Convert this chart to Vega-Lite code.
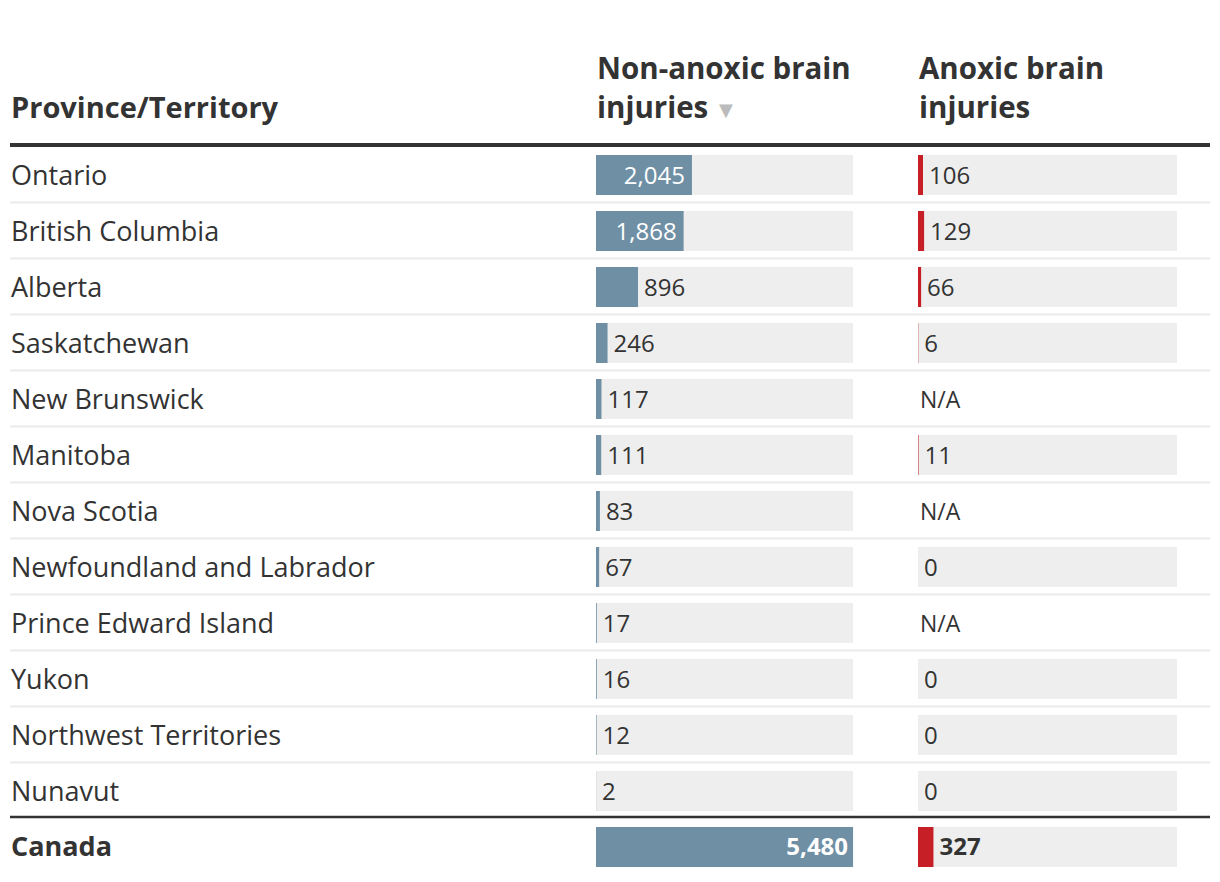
{
  "$schema": "https://vega.github.io/schema/vega-lite/v6.json",
  "padding": {"top": 55, "left": 8, "right": 8, "bottom": 8},
  "background": "white",
  "config": {"view": {"stroke": null}, "font": "Open Sans", "text": {"font": "Open Sans"}},
  "data": {"values": [
    {"province": "Ontario", "nonanoxic": 2045, "anoxic": 106},
    {"province": "British Columbia", "nonanoxic": 1868, "anoxic": 129},
    {"province": "Alberta", "nonanoxic": 896, "anoxic": 66},
    {"province": "Saskatchewan", "nonanoxic": 246, "anoxic": 6},
    {"province": "New Brunswick", "nonanoxic": 117, "anoxic": null},
    {"province": "Manitoba", "nonanoxic": 111, "anoxic": 11},
    {"province": "Nova Scotia", "nonanoxic": 83, "anoxic": null},
    {"province": "Newfoundland and Labrador", "nonanoxic": 67, "anoxic": 0},
    {"province": "Prince Edward Island", "nonanoxic": 17, "anoxic": null},
    {"province": "Yukon", "nonanoxic": 16, "anoxic": 0},
    {"province": "Northwest Territories", "nonanoxic": 12, "anoxic": 0},
    {"province": "Nunavut", "nonanoxic": 2, "anoxic": 0},
    {"province": "Canada", "nonanoxic": 5480, "anoxic": 327}
  ]},
  "spacing": 0,
  "bounds": "flush",
  "resolve": {"scale": {"x": "independent"}},
  "hconcat": [
    {
      "width": 586,
      "height": 728,
      "encoding": {
        "y": {"field": "province", "type": "nominal", "axis": null, "scale": {"paddingInner": 0, "paddingOuter": 0, "domain": ["Ontario", "British Columbia", "Alberta", "Saskatchewan", "New Brunswick", "Manitoba", "Nova Scotia", "Newfoundland and Labrador", "Prince Edward Island", "Yukon", "Northwest Territories", "Nunavut", "Canada"]}}
      },
      "layer": [
        {"transform": [{"filter": "datum.province != 'Ontario' && datum.province != 'Canada'"}],
         "mark": {"type": "rule", "color": "#ebebeb", "strokeWidth": 2, "yOffset": -28.5}, "encoding": {}},
        {"transform": [{"filter": "datum.province == 'Ontario'"}],
         "mark": {"type": "rule", "color": "#333333", "strokeWidth": 4, "yOffset": -30}, "encoding": {}},
        {"transform": [{"filter": "datum.province == 'Canada'"}],
         "mark": {"type": "rule", "color": "#333333", "strokeWidth": 2.5, "yOffset": -30}, "encoding": {}},
        {"transform": [{"filter": "datum.province == 'Ontario'"}],
         "mark": {"type": "text", "align": "left", "baseline": "alphabetic", "fontSize": 29, "fontWeight": "bold", "color": "#333333", "dx": 1, "dy": -57},
         "encoding": {"x": {"datum": 0, "type": "quantitative", "scale": {"domain": [0, 1]}, "axis": null}, "text": {"value": "Province/Territory"}}},
        {"transform": [{"filter": "datum.province != 'Canada'"}],
         "mark": {"type": "text", "align": "left", "baseline": "middle", "fontSize": 27, "color": "#333333", "dx": 1, "dy": 1.5},
         "encoding": {"x": {"datum": 0, "type": "quantitative", "scale": {"domain": [0, 1]}, "axis": null}, "text": {"field": "province"}}},
        {"transform": [{"filter": "datum.province == 'Canada'"}],
         "mark": {"type": "text", "align": "left", "baseline": "middle", "fontSize": 27, "fontWeight": "bold", "color": "#333333", "dx": 1, "dy": 0.5},
         "encoding": {"x": {"datum": 0, "type": "quantitative", "scale": {"domain": [0, 1]}, "axis": null}, "text": {"field": "province"}}}
      ]
    },
    {
      "width": 322,
      "height": 728,
      "encoding": {
        "y": {"field": "province", "type": "nominal", "axis": null, "scale": {"paddingInner": 0, "paddingOuter": 0, "domain": ["Ontario", "British Columbia", "Alberta", "Saskatchewan", "New Brunswick", "Manitoba", "Nova Scotia", "Newfoundland and Labrador", "Prince Edward Island", "Yukon", "Northwest Territories", "Nunavut", "Canada"]}}
      },
      "layer": [
        {"transform": [{"filter": "datum.province != 'Ontario' && datum.province != 'Canada'"}],
         "mark": {"type": "rule", "color": "#ebebeb", "strokeWidth": 2, "yOffset": -28.5}, "encoding": {}},
        {"transform": [{"filter": "datum.province == 'Ontario'"}],
         "mark": {"type": "rule", "color": "#333333", "strokeWidth": 4, "yOffset": -30}, "encoding": {}},
        {"transform": [{"filter": "datum.province == 'Canada'"}],
         "mark": {"type": "rule", "color": "#333333", "strokeWidth": 2.5, "yOffset": -30}, "encoding": {}},
        {"mark": {"type": "bar", "height": 40, "color": "#eeeeee"},
         "encoding": {"x": {"datum": 0, "type": "quantitative", "scale": {"domain": [0, 5480], "range": [0, 258]}, "axis": null}, "x2": {"datum": 5480}}},
        {"mark": {"type": "bar", "height": 40, "color": "#6f8fa5"},
         "encoding": {"x": {"field": "nonanoxic", "type": "quantitative"}, "x2": {"datum": 0}}},
        {"transform": [{"filter": "datum.nonanoxic >= 1000 && datum.province != 'Canada'"}],
         "mark": {"type": "text", "align": "right", "baseline": "middle", "fontSize": 24, "color": "white", "dx": -7, "dy": 1.5},
         "encoding": {"x": {"field": "nonanoxic", "type": "quantitative"}, "text": {"field": "nonanoxic", "format": ","}}},
        {"transform": [{"filter": "datum.nonanoxic < 1000"}],
         "mark": {"type": "text", "align": "left", "baseline": "middle", "fontSize": 24, "color": "#333333", "dx": 6, "dy": 1.5},
         "encoding": {"x": {"field": "nonanoxic", "type": "quantitative"}, "text": {"field": "nonanoxic", "format": ","}}},
        {"transform": [{"filter": "datum.province == 'Canada'"}],
         "mark": {"type": "text", "align": "right", "baseline": "middle", "fontSize": 24, "fontWeight": "bold", "color": "white", "dx": -5, "dy": 0.5},
         "encoding": {"x": {"field": "nonanoxic", "type": "quantitative"}, "text": {"field": "nonanoxic", "format": ","}}},
        {"transform": [{"filter": "datum.province == 'Ontario'"}],
         "mark": {"type": "text", "align": "left", "baseline": "alphabetic", "fontSize": 29.5, "fontWeight": "bold", "color": "#333333", "dx": 1, "dy": -96, "lineHeight": 39},
         "encoding": {"x": {"datum": 0, "type": "quantitative"}, "text": {"value": ["Non-anoxic brain", "injuries"]}}},
        {"transform": [{"filter": "datum.province == 'Ontario'"}],
         "mark": {"type": "text", "align": "left", "baseline": "alphabetic", "fontSize": 18, "color": "#bbbbbb", "dx": 123, "dy": -59, "font": "DejaVu Sans"},
         "encoding": {"x": {"datum": 0, "type": "quantitative"}, "text": {"value": "▼"}}}
      ]
    },
    {
      "width": 292,
      "height": 728,
      "encoding": {
        "y": {"field": "province", "type": "nominal", "axis": null, "scale": {"paddingInner": 0, "paddingOuter": 0, "domain": ["Ontario", "British Columbia", "Alberta", "Saskatchewan", "New Brunswick", "Manitoba", "Nova Scotia", "Newfoundland and Labrador", "Prince Edward Island", "Yukon", "Northwest Territories", "Nunavut", "Canada"]}}
      },
      "layer": [
        {"transform": [{"filter": "datum.province != 'Ontario' && datum.province != 'Canada'"}],
         "mark": {"type": "rule", "color": "#ebebeb", "strokeWidth": 2, "yOffset": -28.5}, "encoding": {}},
        {"transform": [{"filter": "datum.province == 'Ontario'"}],
         "mark": {"type": "rule", "color": "#333333", "strokeWidth": 4, "yOffset": -30}, "encoding": {}},
        {"transform": [{"filter": "datum.province == 'Canada'"}],
         "mark": {"type": "rule", "color": "#333333", "strokeWidth": 2.5, "yOffset": -30}, "encoding": {}},
        {"transform": [{"filter": "datum.anoxic != null"}],
         "mark": {"type": "bar", "height": 40, "color": "#eeeeee"},
         "encoding": {"x": {"datum": 0, "type": "quantitative", "scale": {"domain": [0, 5480], "range": [0, 260]}, "axis": null}, "x2": {"datum": 5480}}},
        {"transform": [{"filter": "datum.anoxic != null"}],
         "mark": {"type": "bar", "height": 40, "color": "#c62026"},
         "encoding": {"x": {"field": "anoxic", "type": "quantitative"}, "x2": {"datum": 0}}},
        {"transform": [{"filter": "datum.anoxic != null && datum.province != 'Canada'"}],
         "mark": {"type": "text", "align": "left", "baseline": "middle", "fontSize": 24, "color": "#333333", "dx": 6, "dy": 1.5},
         "encoding": {"x": {"field": "anoxic", "type": "quantitative"}, "text": {"field": "anoxic", "format": ","}}},
        {"transform": [{"filter": "datum.province == 'Canada'"}],
         "mark": {"type": "text", "align": "left", "baseline": "middle", "fontSize": 24, "fontWeight": "bold", "color": "#333333", "dx": 6, "dy": 0.5},
         "encoding": {"x": {"field": "anoxic", "type": "quantitative"}, "text": {"field": "anoxic", "format": ","}}},
        {"transform": [{"filter": "datum.anoxic == null"}],
         "mark": {"type": "text", "align": "left", "baseline": "middle", "fontSize": 23, "color": "#333333", "dx": 2, "dy": 1.5},
         "encoding": {"x": {"datum": 0, "type": "quantitative"}, "text": {"value": "N/A"}}},
        {"transform": [{"filter": "datum.province == 'Ontario'"}],
         "mark": {"type": "text", "align": "left", "baseline": "alphabetic", "fontSize": 29.5, "fontWeight": "bold", "color": "#333333", "dx": 1, "dy": -96, "lineHeight": 39},
         "encoding": {"x": {"datum": 0, "type": "quantitative"}, "text": {"value": ["Anoxic brain", "injuries"]}}}
      ]
    }
  ]
}
